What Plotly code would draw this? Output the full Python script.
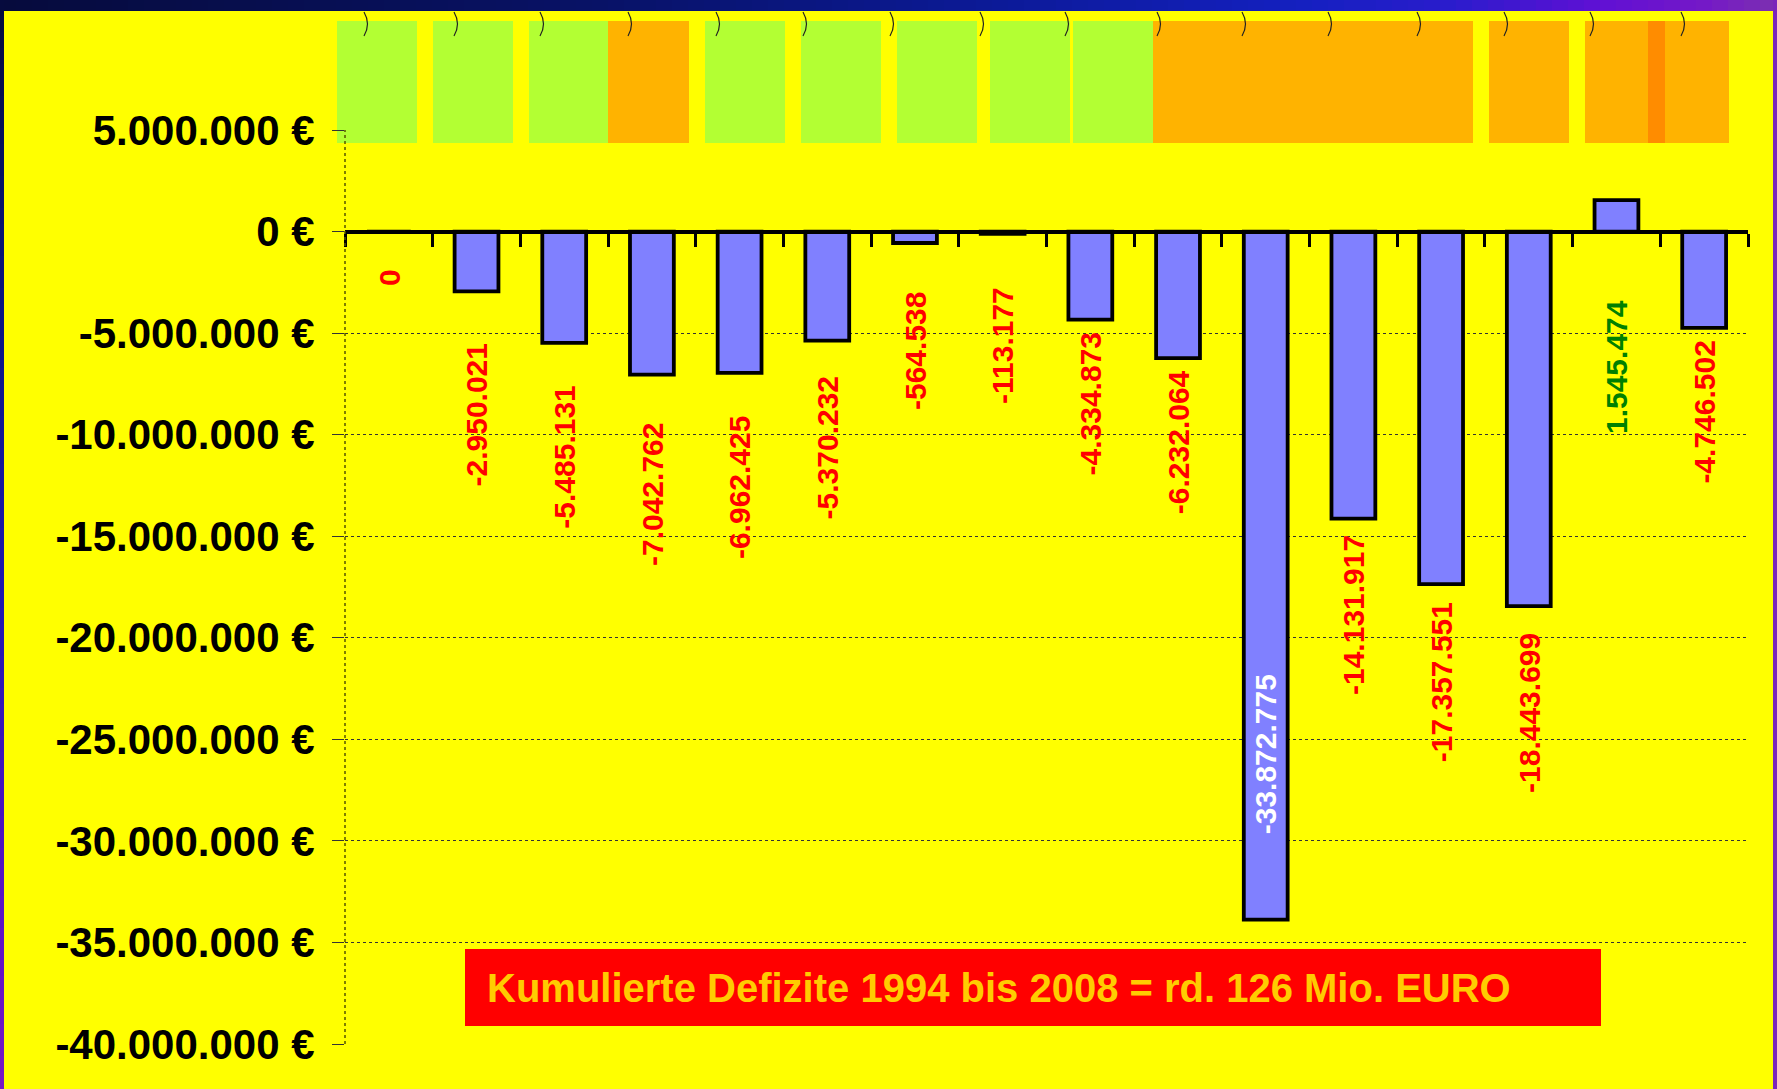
import plotly.graph_objects as go

# ---------------- data ----------------
years = list(range(1993, 2009))
values = [0, -2950021, -5485131, -7042762, -6962425, -5370232, -564538, -113177,
          -4334873, -6232064, -33872775, -14131917, -17357551, -18443699, 1545474, -4746502]
y_tick_values = [5000000, 0, -5000000, -10000000, -15000000, -20000000,
                 -25000000, -30000000, -35000000, -40000000]
summary_text = "Kumulierte Defizite 1994 bis 2008 = rd. 126 Mio. EURO"

# ---------------- layout constants ----------------
W, H = 1777, 1089
PL, PR, PT, PB = 345, 1748, 130, 1044          # plot area in pixels
Y_MIN, Y_MAX = -40000000, 5000000
FONT = "Liberation Sans, Arial, sans-serif"

# label placement style: gap in px between bar end and label, and mode
label_gap = [35, 50, 41, 46, 41, 34, 47, 51, 11, 10, 83, 14, 16, 25, 66, 11]
label_mode = ["below"] * 16
label_mode[10] = "inside"
label_mode[14] = "below_zero"


def px2x(px):
    return (px - PL) / (PR - PL)


def px2y(py):
    return (PB - py) / (PB - PT)


def de(n):
    return f"{n:,}".replace(",", ".")


def hex2rgb(h):
    h = h.lstrip("#")
    return tuple(int(h[i:i + 2], 16) for i in (0, 2, 4))


def interp(stops, t):
    for (a, ca), (b, cb) in zip(stops[:-1], stops[1:]):
        if a <= t <= b:
            f = (t - a) / (b - a) if b > a else 0
            c1, c2 = hex2rgb(ca), hex2rgb(cb)
            return "rgb(%d,%d,%d)" % tuple(round(c1[k] + (c2[k] - c1[k]) * f) for k in range(3))
    return stops[-1][1]


fig = go.Figure()

fig.add_trace(go.Bar(
    x=years, y=values, width=0.5,
    marker=dict(color="#8080FF", line=dict(color="black", width=3.8)),
    hoverinfo="x+y",
))

shapes = []

# ---- frame (slide background gradient) ----
top_stops = [(0, "#060B3C"), (600, "#081266"), (1000, "#0C1A98"), (1300, "#1420C0"),
             (1450, "#2A1CCC"), (1600, "#6010D4"), (1700, "#7418C8"), (1777, "#7C30B0")]
step = 16
for x0 in range(0, W, step):
    x1 = min(W, x0 + step)
    shapes.append(dict(type="rect", xref="paper", yref="paper",
                       x0=px2x(x0), x1=px2x(x1 + 1), y0=px2y(0), y1=px2y(11),
                       line=dict(width=0), fillcolor=interp(top_stops, (x0 + x1) / 2)))
left_stops = [(0, "#060B3C"), (300, "#0A1680"), (600, "#2018B0"), (900, "#5A14C4"), (1089, "#7818C4")]
for y0 in range(0, H, step):
    y1 = min(H, y0 + step)
    shapes.append(dict(type="rect", xref="paper", yref="paper",
                       x0=px2x(0), x1=px2x(4), y0=px2y(y0), y1=px2y(y1 + 1),
                       line=dict(width=0), fillcolor=interp(left_stops, (y0 + y1) / 2)))
shapes.append(dict(type="rect", xref="paper", yref="paper",
                   x0=px2x(1773), x1=px2x(W), y0=px2y(0), y1=px2y(H),
                   line=dict(width=0), fillcolor="#7A26BA"))

# ---- decorative calendar pages at the top ----
GREEN, ORANGE, DARK_OR = "#B3FF33", "#FFB300", "#FF8C00"
pages = [(337, 417, GREEN), (433, 513, GREEN), (529, 608, GREEN), (608, 689, ORANGE),
         (705, 785, GREEN), (801, 881, GREEN), (897, 977, GREEN), (990, 1070, GREEN),
         (1073, 1153, GREEN), (1153, 1473, ORANGE), (1489, 1569, ORANGE),
         (1585, 1729, ORANGE), (1648, 1665, DARK_OR)]
for x0, x1, c in pages:
    shapes.append(dict(type="rect", xref="paper", yref="paper", layer="below",
                       x0=px2x(x0), x1=px2x(x1), y0=px2y(143), y1=px2y(21),
                       line=dict(width=0), fillcolor=c))

# ---- small binder rings on the calendar strip ----
rings = [366, 456, 542, 630, 718, 805, 892, 982, 1067, 1159, 1244, 1330, 1419, 1506, 1592, 1683]
for rx in rings:
    shapes.append(dict(type="path", xref="paper", yref="paper",
                       path="M %f,%f Q %f,%f %f,%f" % (px2x(rx - 2), px2y(12), px2x(rx + 5), px2y(24),
                                                       px2x(rx - 2), px2y(36)),
                       line=dict(color="#222222", width=1.2)))

# ---- dotted y axis line ----
shapes.append(dict(type="line", xref="paper", yref="paper",
                   x0=0, x1=0, y0=0, y1=1,
                   line=dict(color="#555500", width=1.5, dash="dot")))

# ---- summary box ----
shapes.append(dict(type="rect", xref="paper", yref="paper",
                   x0=px2x(465), x1=px2x(1601), y0=px2y(1026), y1=px2y(949),
                   line=dict(width=0), fillcolor="#FF0000"))

annotations = []
for i, (yr, v) in enumerate(zip(years, values)):
    mode = label_mode[i]
    if mode == "inside":
        color = "white"
        y, yanchor, yshift = v, "bottom", label_gap[i]
    elif mode == "below_zero":
        color = "#008000" if v > 0 else "#FF0000"
        y, yanchor, yshift = 0, "top", -label_gap[i]
    else:
        color = "#FF0000" if v <= 0 else "#008000"
        y, yanchor, yshift = min(v, 0), "top", -label_gap[i]
    annotations.append(dict(
        x=yr, y=y, xref="x", yref="y", text=de(v), showarrow=False,
        textangle=-90, xanchor="center", yanchor=yanchor, yshift=yshift,
        font=dict(family=FONT, size=30, color=color, weight="bold")))

annotations.append(dict(
    x=px2x(485), y=px2y(987.5), xref="paper", yref="paper", text=summary_text,
    showarrow=False, xanchor="left", yanchor="middle",
    font=dict(family=FONT, size=40, color="#FFCC00", weight="bold")))

boundaries = [y - 0.5 for y in years] + [years[-1] + 0.5]

fig.update_layout(
    width=W, height=H,
    margin=dict(l=PL, r=W - PR, t=PT, b=H - PB, pad=0, autoexpand=False),
    paper_bgcolor="#FFFF00", plot_bgcolor="#FFFF00",
    showlegend=False,
    shapes=shapes,
    annotations=annotations,
    xaxis=dict(
        type="linear",
        range=[boundaries[0], boundaries[-1]],
        anchor="free",
        position=(0 - Y_MIN) / (Y_MAX - Y_MIN),
        showline=True, linecolor="black", linewidth=4,
        tickmode="array", tickvals=boundaries,
        ticks="outside", ticklen=13, tickwidth=3, tickcolor="black",
        showticklabels=False, showgrid=False, zeroline=False,
        automargin=False, fixedrange=True,
    ),
    yaxis=dict(
        range=[Y_MIN, Y_MAX],
        tickmode="array",
        tickvals=y_tick_values,
        ticktext=[de(v) + " €" for v in y_tick_values],
        tickfont=dict(family=FONT, size=42, color="black", weight="bold"),
        ticks="outside", ticklen=12, tickwidth=1, tickcolor="#333333",
        ticklabelstandoff=9,
        showgrid=True, gridcolor="#333333", gridwidth=1, griddash="dot",
        zeroline=False, showline=False, automargin=False, fixedrange=True,
    ),
)

fig.write_html(
    "out.html",
    config={"displayModeBar": False},
    post_script="document.body.style.margin='0';document.body.style.overflow='hidden';",
)
